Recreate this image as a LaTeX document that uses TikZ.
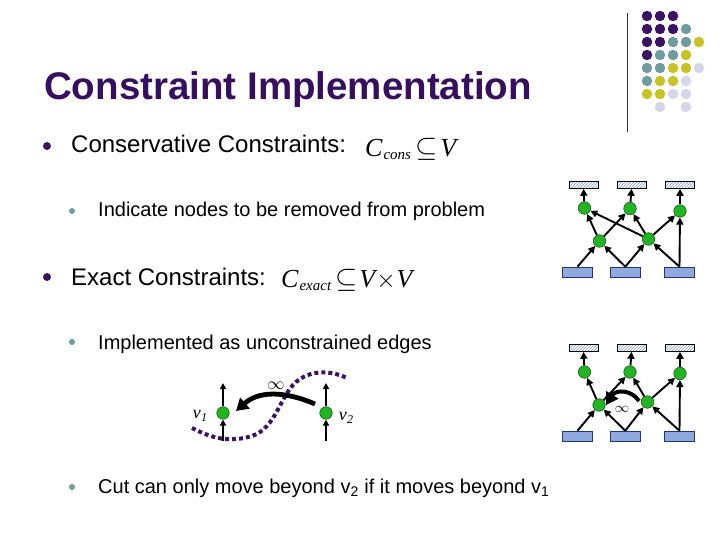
\documentclass[tikz,border=0pt]{standalone}
\usepackage{fontspec}
\setmainfont{Liberation Sans}
\newfontfamily\tms{Liberation Serif}
\usetikzlibrary{arrows.meta,patterns}
\definecolor{ttl}{HTML}{36105F}
\definecolor{dP}{HTML}{3A1462}
\definecolor{dT}{HTML}{6F9C9F}
\definecolor{dY}{HTML}{C8C324}
\definecolor{dL}{HTML}{D6D6EA}
\definecolor{gfill}{HTML}{22B422}
\definecolor{gline}{HTML}{1C5A1C}
\definecolor{bfill}{HTML}{8FA8E0}
\definecolor{bline}{HTML}{27346A}
\definecolor{hcol}{HTML}{8098BE}
\tikzset{
  gnode/.style={circle,minimum size=12.5pt,inner sep=0pt,fill=gfill,draw=gline,line width=0.6pt},
  hrect/.style={rectangle,minimum width=29pt,minimum height=7pt,inner sep=0pt,draw=black,line width=0.6pt,preaction={fill=white},pattern=north east lines,pattern color=hcol},
  brect/.style={rectangle,minimum width=30pt,minimum height=10pt,inner sep=0pt,fill=bfill,draw=bline,line width=0.6pt},
  arr/.style={-{Triangle[length=7pt,width=7pt]},line width=1.9pt,black},
  varr/.style={-{Triangle[length=6pt,width=6pt]},line width=1.4pt,black},
  bigarr/.style={-{Triangle[length=12pt,width=14pt]},line width=4.8pt,black},
  bul/.style={circle,inner sep=0pt,minimum size=8pt,fill=dP},
  sbul/.style={circle,inner sep=0pt,minimum size=6pt,fill=dT},
  lvl1/.style={anchor=base west,font=\fontsize{24}{28}\selectfont,inner sep=0pt},
  lvl2/.style={anchor=base west,font=\fontsize{20}{24}\selectfont,inner sep=0pt},
  dot/.style={circle,inner sep=0pt,minimum size=10.5pt},
  mth/.style={anchor=base west,inner sep=0pt}
}
\begin{document}
\begin{tikzpicture}[x=1pt,y=-1pt]
\useasboundingbox (0,0) rectangle (720,540);
% decorative dots
\foreach \c/\col/\row in {dP/0/0,dP/1/0,dP/2/0,
  dP/0/1,dP/1/1,dP/2/1,dT/3/1,
  dP/0/2,dP/1/2,dT/2/2,dT/3/2,dY/4/2,
  dP/0/3,dT/1/3,dT/2/3,dY/3/3,
  dT/0/4,dT/1/4,dY/2/4,dY/3/4,dL/4/4,
  dT/0/5,dY/1/5,dY/2/5,dL/3/5,
  dY/0/6,dY/1/6,dL/2/6,dL/3/6,
  dL/1/7,dL/3/7}
  \node[dot,fill=\c] (dot-\col-\row) at ({647+13*\col},{16+13*\row}) {};
\coordinate (vl1) at (627,13);
\coordinate (vl2) at (627,132);
\draw[line width=1pt,black!80] (vl1) -- (vl2);
% title
\node[anchor=base west,inner sep=0pt,text=ttl,font=\fontsize{38.5}{44}\selectfont\bfseries] (title) at (44,100) {Constraint Implementation};
% bullets
\node[bul] (b1) at (47,146) {};
\node[lvl1] (t1) at (71,153) {Conservative Constraints:};
\node[mth] (m1) at (365,157) {\tms\fontsize{26}{30}\selectfont\itshape C\kern1pt\raisebox{-3pt}{\fontsize{15}{18}\selectfont cons}\kern4pt\upshape\scalebox{1.15}{$\subseteq$}\kern3pt\itshape V};
\node[sbul] (s1) at (72,211) {};
\node[lvl2] (t2) at (98,217) {Indicate nodes to be removed from problem};
\node[bul] (b2) at (47,277) {};
\node[lvl1] (t3) at (71,285) {Exact Constraints:};
\node[mth] (m2) at (281,287) {\tms\fontsize{26}{30}\selectfont\itshape C\kern1pt\raisebox{-3pt}{\fontsize{15}{18}\selectfont exact}\kern4pt\upshape\scalebox{1.15}{$\subseteq$}\kern2pt\itshape V\kern1pt\upshape$\times$\kern1pt\itshape V};
\node[sbul] (s2) at (72,342) {};
\node[lvl2] (t4) at (98,349) {Implemented as unconstrained edges};
\node[sbul] (s3) at (72,487) {};
\node[lvl2] (t5) at (98,493) {Cut can only move beyond v\textsubscript{2} if it moves beyond v\textsubscript{1}};
% v1 v2 illustration
\draw[dP,line width=4pt,dash pattern=on 4pt off 3pt] (192,428) .. controls (212,438) and (228,443) .. (252,436) .. controls (276,428) and (280,396) .. (296,382) .. controls (310,370) and (330,370) .. (347,378);
\node[gnode] (v1) at (223,413) {};
\node[gnode] (v2) at (326,413) {};
\coordinate (v1t) at (223,383);
\coordinate (v1b) at (223,441);
\coordinate (v2t) at (326,383);
\coordinate (v2b) at (326,441);
\draw[varr] (v1) -- (v1t);
\draw[varr] (v1b) -- (v1);
\draw[varr] (v2) -- (v2t);
\draw[varr] (v2b) -- (v2);
\coordinate (ia) at (315,404);
\coordinate (ib) at (236,411);
\draw[bigarr] (ia) .. controls (292,394) and (262,388) .. (ib);
\node[font=\fontsize{18}{20}\selectfont] (inf1) at (276,386) {$\infty$};
\node[anchor=base,inner sep=0pt,font=\tms\fontsize{18}{20}\selectfont\itshape] (lv1) at (200,418) {v\kern0.5pt\raisebox{-3pt}{\fontsize{12}{14}\selectfont 1}};
\node[anchor=base,inner sep=0pt,font=\tms\fontsize{18}{20}\selectfont\itshape] (lv2) at (346,420) {v\kern0.5pt\raisebox{-3pt}{\fontsize{12}{14}\selectfont 2}};
% graph 1
\node[hrect] (ha1) at (583.5,185) {};
\node[hrect] (ha2) at (631.5,185) {};
\node[hrect] (ha3) at (680,185) {};
\node[gnode] (ta1) at (584.5,208) {};
\node[gnode] (ta2) at (630,208.5) {};
\node[gnode] (ta3) at (680,211) {};
\node[gnode] (ma1) at (599.5,241) {};
\node[gnode] (ma2) at (648.5,239) {};
\node[brect] (ba1) at (577.5,272) {};
\node[brect] (ba2) at (625.3,272) {};
\node[brect] (ba3) at (679.5,272) {};
\draw[arr] (ta1) -- (ha1.south);
\draw[arr] (ta2) -- (ha2.south);
\draw[arr] (ta3) -- (ha3.south);
\draw[arr] (ba1.north) -- (ma1);
\draw[arr] (ba2.north) -- (ma1);
\draw[arr] (ba2.north) -- (ma2);
\draw[arr] (ba3.north) -- (ma2);
\draw[arr] (ba3.north) -- (ta3);
\draw[arr] (ma1) -- (ta1);
\draw[arr] (ma1) -- (ta2);
\draw[arr] (ma2) -- (ta1);
\draw[arr] (ma2) -- (ta2);
\draw[arr] (ma2) -- (ta3);
% graph 2
\node[hrect] (hb1) at (583.5,348) {};
\node[hrect] (hb2) at (631.5,348) {};
\node[hrect] (hb3) at (680,348) {};
\node[gnode] (tb1) at (584.5,372) {};
\node[gnode] (tb2) at (630,372) {};
\node[gnode] (tb3) at (680,373.5) {};
\node[gnode] (mb1) at (599,405) {};
\node[gnode] (mb2) at (647.5,402) {};
\node[brect] (bb1) at (577.5,436) {};
\node[brect] (bb2) at (625.3,436) {};
\node[brect] (bb3) at (679.5,436) {};
\draw[arr] (tb1) -- (hb1.south);
\draw[arr] (tb2) -- (hb2.south);
\draw[arr] (tb3) -- (hb3.south);
\draw[arr] (bb1.north) -- (mb1);
\draw[arr] (bb2.north) -- (mb1);
\draw[arr] (bb2.north) -- (mb2);
\draw[arr] (bb3.north) -- (mb2);
\draw[arr] (bb3.north) -- (tb3);
\draw[arr] (mb1) -- (tb1);
\draw[arr] (mb1) -- (tb2);
\draw[arr] (mb2) -- (tb2);
\draw[arr] (mb2) -- (tb3);
\coordinate (ic) at (639,401);
\coordinate (id) at (606,405);
\draw[bigarr,line width=4pt] (ic) .. controls (632,390) and (616,389) .. (id);
\node[font=\fontsize{15}{18}\selectfont] (inf2) at (622,409) {$\infty$};
\end{tikzpicture}
\end{document}
